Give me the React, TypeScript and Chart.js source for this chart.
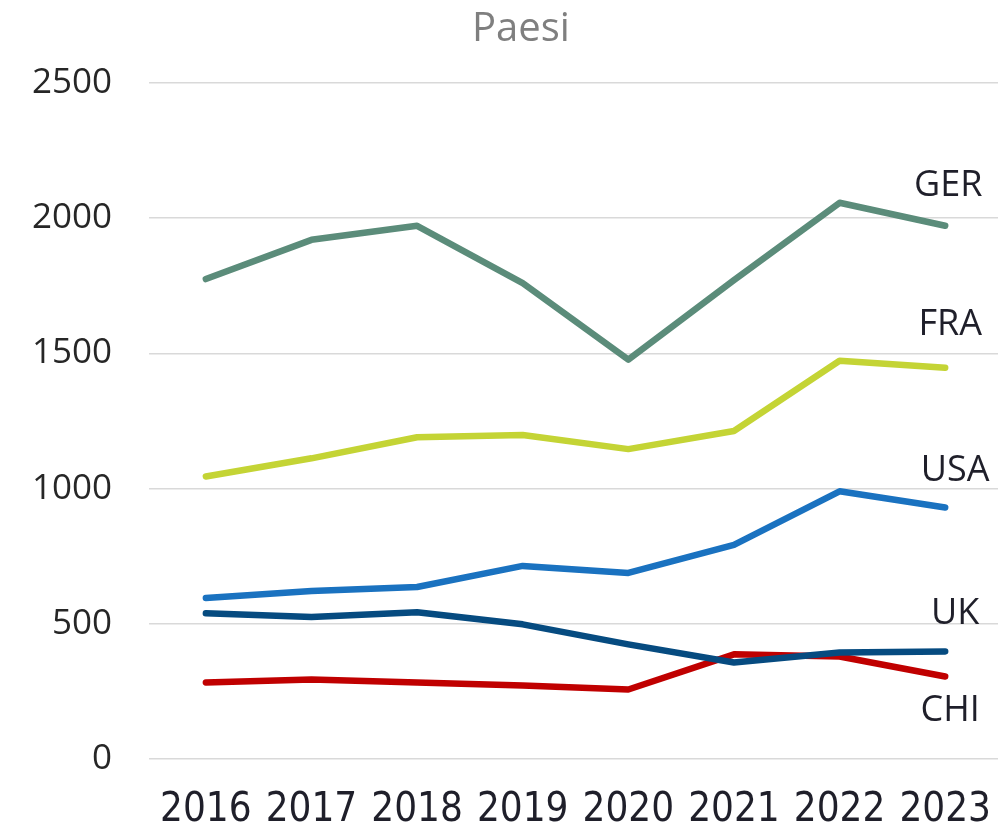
import React, { useEffect, useRef } from "react";
import { Chart, registerables } from "chart.js";

Chart.register(...registerables);

const years = ["2016", "2017", "2018", "2019", "2020", "2021", "2022", "2023"];
const ger = [1775, 1920, 1972, 1760, 1477, 1771, 2057, 1972];
const fra = [1045, 1112, 1190, 1198, 1146, 1213, 1473, 1447];
const usa = [595, 621, 636, 714, 688, 792, 990, 930];
const uk = [539, 525, 543, 498, 424, 357, 394, 398];
const chi = [283, 294, 283, 272, 257, 387, 379, 305];
const seriesNames = ["GER", "FRA", "USA", "UK", "CHI"];
const yTicks = [0, 500, 1000, 1500, 2000, 2500];
const title = "Paesi";

const colors = ["#5B8C7A", "#C4D435", "#1A72C0", "#064B80", "#C00000"];
const labelOffsets = [
  { dx: 3, dy: -40 },
  { dx: 5, dy: -43 },
  { dx: 10, dy: -37 },
  { dx: 10, dy: -38 },
  { dx: 5, dy: 34 },
];

const endLabels = {
  id: "endLabels",
  afterDatasetsDraw(chart: any) {
    const ctx = chart.ctx;
    const xs = chart.scales.x;
    const ys = chart.scales.y;
    ctx.save();
    ctx.fillStyle = "#1f1f2a";
    ctx.font = "36px 'Open Sans', sans-serif";
    ctx.textAlign = "center";
    ctx.textBaseline = "middle";
    chart.data.datasets.forEach((ds: any, i: number) => {
      const last = ds.data.length - 1;
      const x = xs.getPixelForValue(last) + labelOffsets[i].dx;
      const y = ys.getPixelForValue(ds.data[last]) + labelOffsets[i].dy;
      ctx.fillText(ds.label, x, y);
    });
    ctx.fillStyle = "#7f7f7f";
    ctx.font = "40px 'Open Sans', sans-serif";
    ctx.fillText(title, 521, 30);
    ctx.restore();
  },
};

export default function App() {
  const ref = useRef<HTMLCanvasElement>(null);
  useEffect(() => {
    if (!ref.current) return;
    const all = [ger, fra, usa, uk, chi];
    const chart = new Chart(ref.current, {
      type: "line",
      data: {
        labels: years,
        datasets: all.map((d, i) => ({
          label: seriesNames[i],
          data: d,
          borderColor: colors[i],
          backgroundColor: colors[i],
          borderWidth: 6.5,
          pointRadius: 0,
          tension: 0,
          borderCapStyle: "round" as const,
          borderJoinStyle: "round" as const,
        })),
      },
      options: {
        animation: false,
        responsive: true,
        maintainAspectRatio: false,
        layout: { padding: { top: 83, right: 8, left: -5, bottom: -37 } },
        plugins: {
          legend: { display: false },
          title: { display: false },
          tooltip: { enabled: false },
        },
        scales: {
          x: {
            offset: true,
            grid: { display: false, drawTicks: false },
            border: { display: false },
            afterFit: (scale: any) => {
              scale.paddingLeft = 0;
              scale.paddingRight = 0;
            },
            ticks: {
              color: "#1f1f2a",
              padding: 28,
              autoSkip: false,
              font: { family: "'Liberation Sans Narrow', 'DejaVu Sans Condensed', sans-serif", size: 40 },
              maxRotation: 0,
            },
          },
          y: {
            min: 0,
            max: 2500,
            afterBuildTicks: (axis: any) => {
              axis.ticks = yTicks.map((v) => ({ value: v }));
            },
            grid: { color: "#d9d9d9", lineWidth: 1.5, tickLength: 4, drawTicks: true, tickColor: "#d9d9d9" },
            border: { display: false },
            ticks: {
              color: "#262626",
              padding: 37,
              callback: (v: any) => String(v),
              font: { family: "'Open Sans', sans-serif", size: 35 },
            },
          },
        },
      },
      plugins: [endLabels],
    });
    return () => chart.destroy();
  }, []);
  return (
    <div style={{ position: "fixed", left: 0, top: 0, width: 1006, height: 826, background: "#fff" }}>
      <canvas ref={ref} />
    </div>
  );
}
